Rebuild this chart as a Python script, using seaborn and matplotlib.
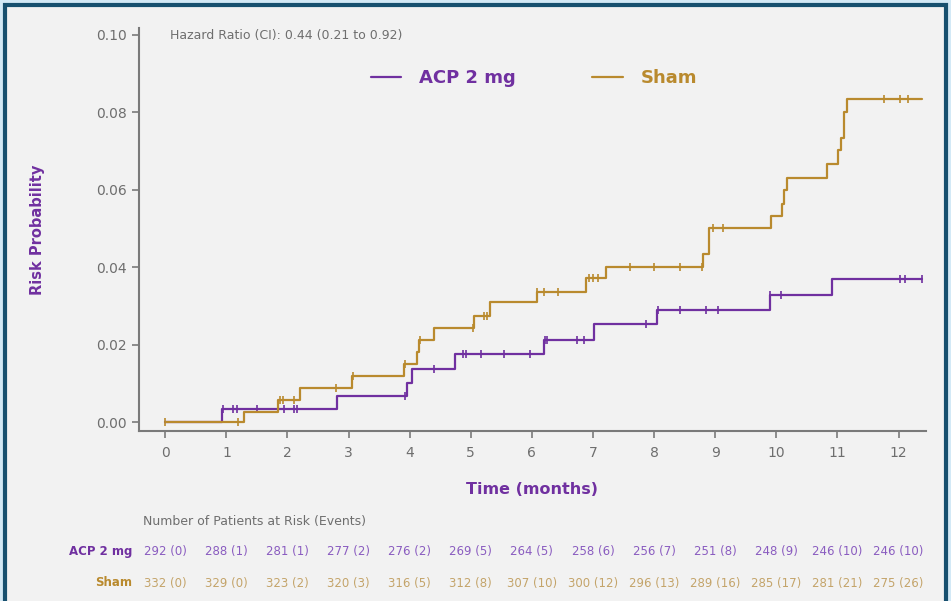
import matplotlib
matplotlib.use("Agg")
import matplotlib.pyplot as plt
import matplotlib.patches as patches
from matplotlib.lines import Line2D
import seaborn as sns
import pandas as pd
import numpy as np

# --- Data ---
acp_times = [0, 0.93, 2.81, 3.96, 4.04, 4.74, 6.20, 7.02, 8.04, 9.90, 10.91, 12.39]
acp_risk = [0, 0.0034, 0.0068, 0.0103, 0.0139, 0.0178, 0.0214, 0.0253, 0.0289, 0.0330, 0.0369, 0.0369]
acp_censor = [0.95, 1.11, 1.18, 1.50, 1.95, 2.10, 2.16, 3.93, 4.39, 4.88, 4.92, 5.16, 5.55,
              5.97, 6.22, 6.25, 6.74, 6.86, 7.87, 8.07, 8.43, 8.85, 9.05, 9.90, 10.07,
              12.03, 12.11, 12.39]

sham_times = [0, 1.29, 1.85, 2.20, 3.06, 3.91, 4.12, 4.16, 4.40, 5.06, 5.32, 6.08, 6.89, 7.22,
              8.80, 8.90, 9.92, 10.10, 10.13, 10.18, 10.83, 11.01, 11.06, 11.10, 11.16, 12.39]
sham_risk = [0, 0.0026, 0.0059, 0.0090, 0.0121, 0.0152, 0.0183, 0.0214, 0.0245, 0.0276, 0.0310,
             0.0338, 0.0372, 0.0402, 0.0436, 0.0503, 0.0534, 0.0565, 0.0600, 0.0632, 0.0668,
             0.0702, 0.0735, 0.0800, 0.0835, 0.0835]
sham_censor = [0, 1.19, 1.88, 1.92, 2.10, 2.80, 3.08, 3.92, 4.17, 5.04, 5.22, 5.27, 6.09, 6.20,
               6.42, 6.93, 7.00, 7.09, 7.61, 8.00, 8.43, 8.79, 8.97, 9.13, 11.77, 12.03, 12.16]

at_risk_months = list(range(13))
acp_at_risk = ["292 (0)", "288 (1)", "281 (1)", "277 (2)", "276 (2)", "269 (5)", "264 (5)",
               "258 (6)", "256 (7)", "251 (8)", "248 (9)", "246 (10)", "246 (10)"]
sham_at_risk = ["332 (0)", "329 (0)", "323 (2)", "320 (3)", "316 (5)", "312 (8)", "307 (10)",
                "300 (12)", "296 (13)", "289 (16)", "285 (17)", "281 (21)", "275 (26)"]

arm_names = ["ACP 2 mg", "Sham"]
y_ticks = [0.00, 0.02, 0.04, 0.06, 0.08, 0.10]

PURPLE = "#7030a0"
GOLD = "#b98a2e"
PURPLE_LIGHT = "#8a5cc0"
GOLD_LIGHT = "#c4a46a"
GREY = "#6e6e6e"
BG = "#f2f2f2"


def step_value(times, risk, t):
    """Risk level of a step curve at time t (value after any jump at t)."""
    idx = np.searchsorted(times, t, side="right") - 1
    return risk[max(idx, 0)]


# Build long-form frames for seaborn
curve_df = pd.concat([
    pd.DataFrame({"Time": acp_times, "Risk": acp_risk, "Arm": arm_names[0]}),
    pd.DataFrame({"Time": sham_times, "Risk": sham_risk, "Arm": arm_names[1]}),
], ignore_index=True)

censor_df = pd.concat([
    pd.DataFrame({"Time": acp_censor,
                  "Risk": [step_value(acp_times, acp_risk, t) for t in acp_censor],
                  "Arm": arm_names[0]}),
    pd.DataFrame({"Time": sham_censor,
                  "Risk": [step_value(sham_times, sham_risk, t) for t in sham_censor],
                  "Arm": arm_names[1]}),
], ignore_index=True)

palette = {arm_names[0]: PURPLE, arm_names[1]: GOLD}

sns.set_style("white")
plt.rcParams["font.family"] = ["DejaVu Sans"]

fig = plt.figure(figsize=(9.51, 6.01), dpi=100)
fig.patch.set_facecolor("#d3e9f6")

# Framed panel (behind everything)
panel = patches.Rectangle((5 / 951, -0.05), 941 / 951, 1.05 - 5 / 601,
                          transform=fig.transFigure, facecolor=BG,
                          edgecolor="#17506f", linewidth=3, zorder=-10)
fig.patches.append(panel)

ax = fig.add_axes([139 / 951, (601 - 431) / 601, (926 - 139) / 951, (431 - 28) / 601])
ax.set_facecolor(BG)

# ACP drawn first so the gold line sits on top near zero (as in the reference)
for arm in arm_names:
    sns.lineplot(data=curve_df[curve_df["Arm"] == arm], x="Time", y="Risk",
                 color=palette[arm], drawstyle="steps-post", estimator=None,
                 linewidth=1.6, ax=ax, legend=False)
    sns.scatterplot(data=censor_df[censor_df["Arm"] == arm], x="Time", y="Risk",
                    color=palette[arm], marker="|", s=36, linewidth=1.2, ax=ax,
                    legend=False)

ax.set_xlim(-0.43, 12.45)
ax.set_ylim(-0.0022, 0.1018)
ax.set_xticks(at_risk_months)
ax.set_yticks(y_ticks)
ax.set_yticklabels([f"{v:.2f}" for v in y_ticks])
ax.tick_params(axis="both", colors="#7a7a7a", labelcolor=GREY, length=5, width=1.2,
               labelsize=10, direction="out", bottom=True, left=True)
ax.tick_params(axis="x", pad=6)
for side in ["top", "right"]:
    ax.spines[side].set_visible(False)
for side in ["left", "bottom"]:
    ax.spines[side].set_color("#7a7a7a")
    ax.spines[side].set_linewidth(1.5)

ax.set_xlabel("Time (months)", color=PURPLE, fontsize=11.5, fontweight="bold", labelpad=16)
ax.set_ylabel("Risk Probability", color=PURPLE, fontsize=10.5, fontweight="bold", labelpad=37)

fig.text(170 / 951, 1 - 35 / 601, "Hazard Ratio (CI): 0.44 (0.21 to 0.92)",
         color=GREY, fontsize=9, va="center", ha="left")

# Legend
handles = [Line2D([0], [0], color=PURPLE, lw=1.6), Line2D([0], [0], color=GOLD, lw=1.6)]
leg = fig.legend(handles, arm_names, loc="center", bbox_to_anchor=(534 / 951, 1 - 78 / 601),
                 ncol=2, frameon=False, handlelength=1.7, handletextpad=1.0,
                 columnspacing=4.2, prop={"size": 13, "weight": "bold"})
for txt, col in zip(leg.get_texts(), [PURPLE, GOLD]):
    txt.set_color(col)

# Number at risk table
fig.text(143 / 951, 1 - 521 / 601, "Number of Patients at Risk (Events)",
         color=GREY, fontsize=9, va="center", ha="left")
rows = [(acp_at_risk, PURPLE, PURPLE_LIGHT, 552), (sham_at_risk, GOLD, GOLD_LIGHT, 583)]
for (vals, label_col, val_col, ypix), name in zip(rows, arm_names):
    fig.text(132 / 951, 1 - ypix / 601, name, color=label_col, fontsize=8.5,
             fontweight="bold", ha="right", va="center")
    for m, v in zip(at_risk_months, vals):
        x_fig = fig.transFigure.inverted().transform(ax.transData.transform((m, 0)))[0]
        fig.text(x_fig, 1 - ypix / 601, v, color=val_col, fontsize=8.5,
                 ha="center", va="center")

plt.savefig("out.png", dpi=100, facecolor=fig.get_facecolor())
plt.close(fig)
